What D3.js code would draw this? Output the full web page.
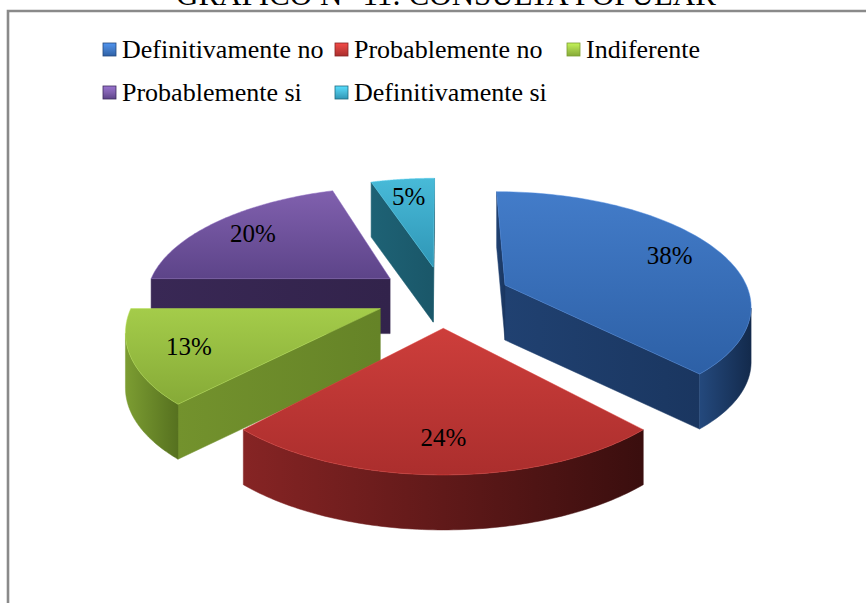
<!DOCTYPE html>
<html><head><meta charset="utf-8">
<script src="https://cdn.jsdelivr.net/npm/d3@7"></script>
<style>body{margin:0;background:#fff;} svg{display:block;}</style>
</head><body>
<script>
// ---- data ----
const title = "GRÁFICO N° 11: CONSULTA POPULAR";
const categories = ["Definitivamente no", "Probablemente no", "Indiferente", "Probablemente si", "Definitivamente si"];
const values = [38, 24, 13, 20, 5];
const labels = ["38%", "24%", "13%", "20%", "5%"];
// colours: top face light/dark, side face light/dark
const topLight = ["#437cc9", "#cd3e3b", "#a4cc4a", "#8060ae", "#48bad8"];
const topDark  = ["#2d60a6", "#ab2e2d", "#86aa37", "#5d4489", "#2f96b6"];
const sideLight = ["#24497d", "#862424", "#7c9d32", "#3e2b5c", "#20697e"];
const sideDark  = ["#132a4c", "#3a0e0e", "#56711f", "#2a1d40", "#164b5b"];

const FONT = "Liberation Serif";
const W = 866, H = 603;
const svg = d3.select("body").append("svg").attr("width", W).attr("height", H);
const defs = svg.append("defs");

// frame
svg.append("path").attr("d", "M8,640V11H900").attr("fill", "none")
  .attr("stroke", "#8a8a8a").attr("stroke-width", 2.6);

// title (cut at the top edge, as in the reference)
svg.append("text").attr("x", 446).attr("y", 5).attr("text-anchor", "middle")
  .attr("font-family", FONT).attr("font-size", 31).attr("fill", "#000").text(title);

// ---- legend ----
const legX = d3.scaleOrdinal().domain([0, 1, 2]).range([103, 335, 567]);
const legY = d3.scaleOrdinal().domain([0, 1]).range([43, 86]);
categories.forEach((c, i) => {
  const col = i % 3, row = Math.floor(i / 3);
  const g = defs.append("linearGradient").attr("id", "lg" + i).attr("x1", 0).attr("y1", 0).attr("x2", 0).attr("y2", 1);
  g.append("stop").attr("offset", 0).attr("stop-color", d3.color(topLight[i]).brighter(0.5));
  g.append("stop").attr("offset", 0.5).attr("stop-color", topLight[i]);
  g.append("stop").attr("offset", 1).attr("stop-color", topDark[i]);
  svg.append("rect").attr("x", legX(col)).attr("y", legY(row)).attr("width", 13).attr("height", 13)
    .attr("fill", "url(#lg" + i + ")").attr("stroke", sideLight[i]).attr("stroke-width", 0.8);
  svg.append("text").attr("x", legX(col) + 19).attr("y", legY(row) + 15)
    .attr("font-family", FONT).attr("font-size", 26).attr("fill", "#000").text(c);
});

// ---- 3D exploded pie (perspective top face, extruded sides) ----
const cx = 443.3, cy = 296.2, A = 245.2, B = 111.6, K = 0.16, EXP = 0.275, DEPTH = 55;
function proj(X, Z) { const d = 1 + K * Z; return [cx + A * X / d, cy - B * Z / d]; }

const arcs = d3.pie().sort(null).value(d => d)(values);

function signedArea(pts) {
  let s = 0;
  for (let i = 0; i < pts.length; i++) {
    const a = pts[i], b = pts[(i + 1) % pts.length];
    s += a[0] * b[1] - b[0] * a[1];
  }
  return s / 2;
}
const line = d3.line().curve(d3.curveLinearClosed);

const slices = arcs.map((a, i) => {
  const mid = (a.startAngle + a.endAngle) / 2;
  const ox = EXP * Math.sin(mid), oz = EXP * Math.cos(mid);
  return { a, i, mid, ox, oz };
});

// gradients
slices.forEach(s => {
  const i = s.i;
  const gt = defs.append("linearGradient").attr("id", "top" + i).attr("x1", 0).attr("y1", 0).attr("x2", 0).attr("y2", 1);
  gt.append("stop").attr("offset", 0).attr("stop-color", topLight[i]);
  gt.append("stop").attr("offset", 1).attr("stop-color", topDark[i]);
  const gs = defs.append("linearGradient").attr("id", "side" + i).attr("x1", 0).attr("y1", 0).attr("x2", 1).attr("y2", 0);
  gs.append("stop").attr("offset", 0).attr("stop-color", sideLight[i]);
  gs.append("stop").attr("offset", 1).attr("stop-color", sideDark[i]);
  const gr = defs.append("linearGradient").attr("id", "rad" + i).attr("x1", 0).attr("y1", 0).attr("x2", 1).attr("y2", 0);
  gr.append("stop").attr("offset", 0).attr("stop-color", d3.interpolateRgb(sideLight[i], sideDark[i])(0.25));
  gr.append("stop").attr("offset", 1).attr("stop-color", d3.interpolateRgb(sideLight[i], sideDark[i])(0.6));
});

// draw far to near
const order = slices.slice().sort((p, q) => q.oz - p.oz);
const pieG = svg.append("g");
order.forEach(s => {
  const { a, i, ox, oz } = s;
  const N = 90;
  const ts = d3.range(N + 1).map(k => a.startAngle + (a.endAngle - a.startAngle) * k / N);
  const top = t => proj(ox + Math.sin(t), oz + Math.cos(t));
  const bot = p => [p[0], p[1] + DEPTH];
  const C = proj(ox, oz);
  const g = pieG.append("g");

  // radial faces
  const Ps = top(a.startAngle), Pe = top(a.endAngle);
  const endFace = [Pe, C, bot(C), bot(Pe)];
  const startFace = [C, Ps, bot(Ps), bot(C)];
  [endFace, startFace].forEach(f => {
    if (signedArea(f) < 0) g.append("path").attr("d", line(f)).attr("fill", "url(#rad" + i + ")")
      .attr("stroke", "url(#rad" + i + ")").attr("stroke-width", 0.5);
  });

  // outer curved face: runs of visible segments
  let run = [];
  const runs = [];
  for (let k = 0; k < N; k++) {
    const p1 = top(ts[k]), p2 = top(ts[k + 1]);
    const vis = signedArea([p1, p2, bot(p2), bot(p1)]) < 0;
    if (vis) { if (run.length === 0) run.push(p1); run.push(p2); }
    else if (run.length) { runs.push(run); run = []; }
  }
  if (run.length) runs.push(run);
  runs.forEach(r => {
    const poly = r.concat(r.slice().reverse().map(bot));
    g.append("path").attr("d", line(poly)).attr("fill", "url(#side" + i + ")")
      .attr("stroke", "url(#side" + i + ")").attr("stroke-width", 0.5);
  });

  // top face
  const topPoly = [C].concat(ts.map(top));
  g.append("path").attr("d", line(topPoly)).attr("fill", "url(#top" + i + ")")
    .attr("stroke", d3.color(topLight[i]).brighter(0.3)).attr("stroke-width", 0.8).attr("stroke-opacity", 0.6);
});

// labels
const LR = 0.78;
slices.forEach(s => {
  const p = proj(s.ox + LR * Math.sin(s.mid), s.oz + LR * Math.cos(s.mid));
  svg.append("text").attr("x", p[0]).attr("y", p[1] + 8.5).attr("text-anchor", "middle")
    .attr("font-family", FONT).attr("font-size", 25).attr("fill", "#000").text(labels[s.i]);
});
</script>
</body></html>
